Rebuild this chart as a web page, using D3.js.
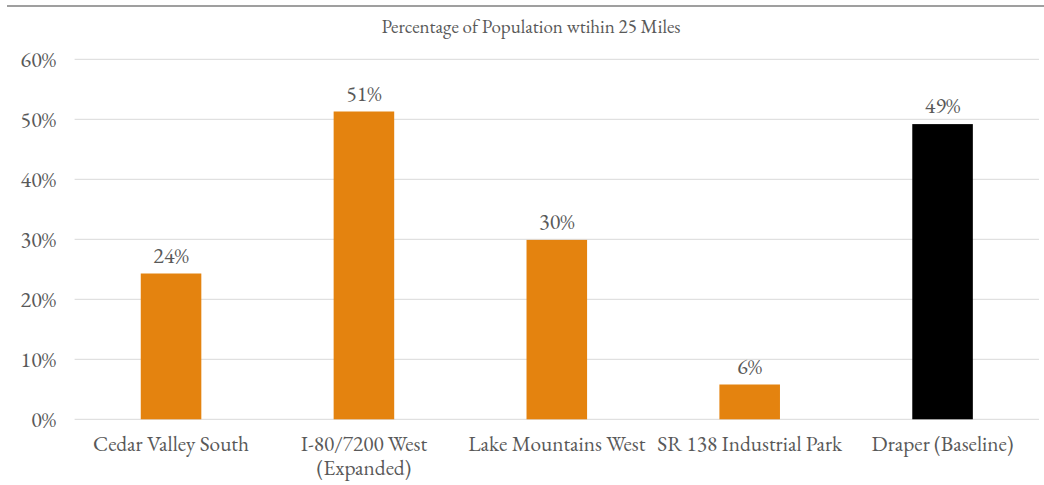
<!DOCTYPE html>
<html>
<head>
<meta charset="utf-8">
<script src="https://cdn.jsdelivr.net/npm/d3@7/dist/d3.min.js"></script>
<style>
  html, body { margin: 0; padding: 0; background: #fff; }
  svg { display: block; }
  svg text { font-family: "EB Garamond", "Liberation Serif", serif; fill: #595959; }
</style>
</head>
<body>
<svg id="chart" width="1044" height="485"></svg>
<script>
const title = "Percentage of Population wtihin 25 Miles";
const categories = [
  ["Cedar Valley South"],
  ["I-80/7200 West", "(Expanded)"],
  ["Lake Mountains West"],
  ["SR 138 Industrial Park"],
  ["Draper (Baseline)"]
];
const values = [0.243, 0.513, 0.299, 0.058, 0.492];
const valueLabels = ["24%", "51%", "30%", "6%", "49%"];
const barColors = ["#E4830F", "#E4830F", "#E4830F", "#E4830F", "#000000"];
const yTicks = [0, 0.1, 0.2, 0.3, 0.4, 0.5, 0.6];

(function () {
const W = 1044, H = 485;
const mLeft = 74.6, mRight = 1039, mTop = 59.3, mBottom = 419.3;
const FONT = '"EB Garamond", "Liberation Serif", serif';
const svg = d3.select("#chart");

// top border line
svg.append("line").attr("x1", 7).attr("x2", W).attr("y1", 6).attr("y2", 6)
  .attr("stroke", "#7f7f7f").attr("stroke-width", 1.5);

const x = d3.scaleBand().domain(d3.range(categories.length))
  .range([mLeft, mRight]).paddingInner(0.686).paddingOuter(0.343);
const y = d3.scaleLinear().domain([0, 0.6]).range([mBottom, mTop]);

// gridlines
svg.append("g").selectAll("line").data(yTicks).join("line")
  .attr("x1", mLeft).attr("x2", mRight)
  .attr("y1", d => y(d)).attr("y2", d => y(d))
  .attr("stroke", "#d9d9d9").attr("stroke-width", 1);

// y axis labels
const yAxis = d3.axisLeft(y).tickValues(yTicks).tickFormat(d3.format(".0%")).tickSize(0).tickPadding(0);
const gy = svg.append("g").attr("transform", `translate(56,0)`).call(yAxis);
gy.attr("font-family", null).attr("font-size", null);
gy.select(".domain").remove();
gy.selectAll("text").style("font-size", "22px").style("font-family", FONT)
  .attr("fill", "#595959").attr("dy", "0.34em");

// bars
svg.append("g").selectAll("rect").data(values).join("rect")
  .attr("x", (d, i) => x(i)).attr("width", x.bandwidth())
  .attr("y", d => y(d)).attr("height", d => y(0) - y(d))
  .attr("fill", (d, i) => barColors[i]);

// value labels
svg.append("g").selectAll("text").data(values).join("text")
  .attr("x", (d, i) => x(i) + x.bandwidth() / 2)
  .attr("y", d => y(d) - 11)
  .attr("text-anchor", "middle")
  .style("font-size", "22px").style("font-family", FONT)
  .text((d, i) => valueLabels[i]);

// category labels (one text element per line)
categories.forEach((lines, i) => {
  lines.forEach((ln, k) => {
    svg.append("text")
      .attr("x", x(i) + x.bandwidth() / 2)
      .attr("y", 451 + k * 23.5)
      .attr("text-anchor", "middle")
      .style("font-size", "21.3px").style("font-family", FONT)
      .text(ln);
  });
});

// title
svg.append("text").attr("x", 531).attr("y", 33).attr("text-anchor", "middle")
  .style("font-size", "19px").style("font-family", FONT).text(title);
})();
</script>
</body>
</html>
